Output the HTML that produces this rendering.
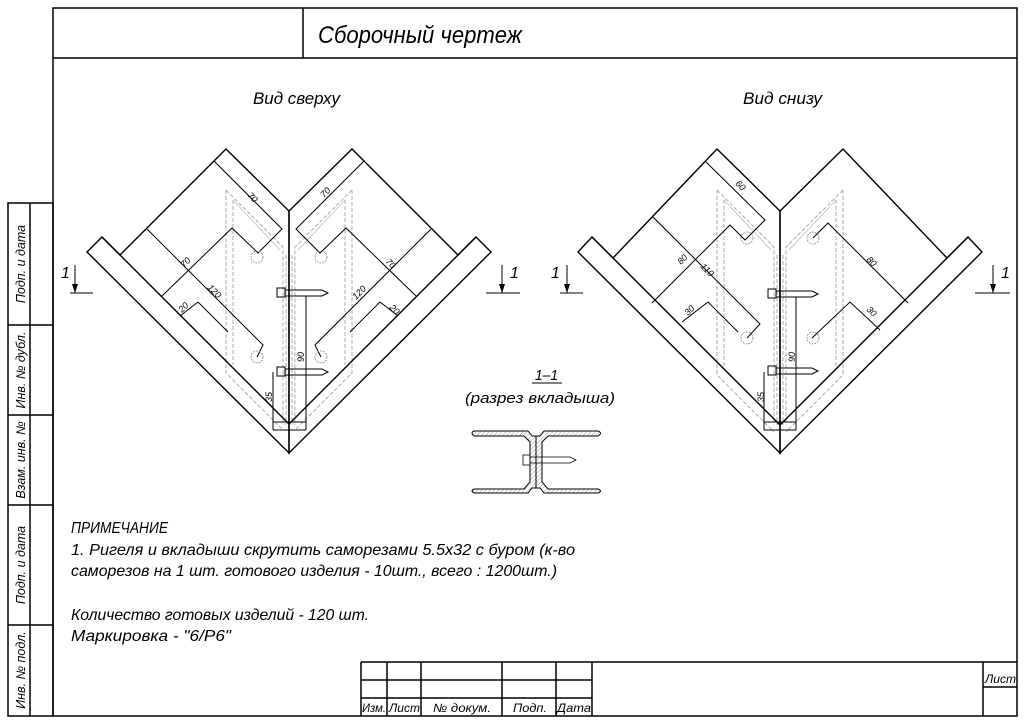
<!DOCTYPE html>
<html><head><meta charset="utf-8"><style>
html,body{margin:0;padding:0;background:#fff;}
svg{display:block;}
text{font-family:"Liberation Sans","DejaVu Sans",sans-serif;font-style:italic;fill:#000;}
</style></head><body>
<svg width="1024" height="724" viewBox="0 0 1024 724" xmlns="http://www.w3.org/2000/svg">
<rect width="1024" height="724" fill="#fff"/>
<g fill="none" stroke="#000" stroke-width="1.5">
<rect x="53" y="8" width="964" height="708"/>
<line x1="53" y1="58" x2="1017" y2="58"/>
<line x1="303" y1="8" x2="303" y2="58"/>
<rect x="8" y="203" width="45" height="513"/>
<line x1="30" y1="203" x2="30" y2="716"/>
<line x1="8" y1="325" x2="53" y2="325"/>
<line x1="8" y1="415" x2="53" y2="415"/>
<line x1="8" y1="505" x2="53" y2="505"/>
<line x1="8" y1="625" x2="53" y2="625"/>
<line x1="361" y1="662" x2="1017" y2="662"/>
<line x1="361" y1="662" x2="361" y2="716"/>
<line x1="361" y1="680" x2="592" y2="680"/>
<line x1="361" y1="698" x2="592" y2="698"/>
<line x1="387" y1="662" x2="387" y2="716"/>
<line x1="421" y1="662" x2="421" y2="716"/>
<line x1="502" y1="662" x2="502" y2="716"/>
<line x1="556" y1="662" x2="556" y2="716"/>
<line x1="592" y1="662" x2="592" y2="716"/>
<line x1="983" y1="662" x2="983" y2="716"/>
<line x1="983" y1="687" x2="1017" y2="687"/>
</g>

<text x="318" y="43" font-size="24" textLength="204" lengthAdjust="spacingAndGlyphs">Сборочный чертеж</text>
<text x="253" y="104" font-size="17" textLength="87" lengthAdjust="spacingAndGlyphs">Вид сверху</text>
<text x="743" y="104" font-size="17" textLength="79" lengthAdjust="spacingAndGlyphs">Вид снизу</text>
<text x="535" y="380" font-size="15" textLength="23" lengthAdjust="spacingAndGlyphs">1–1</text>
<line x1="532" y1="383" x2="562" y2="383" stroke="#000" stroke-width="1"/>
<text x="465" y="403" font-size="15" textLength="150" lengthAdjust="spacingAndGlyphs">(разрез вкладыша)</text>
<g font-size="16">
<text x="71" y="533" textLength="97" lengthAdjust="spacingAndGlyphs">ПРИМЕЧАНИЕ</text>
<text x="71" y="555" textLength="504" lengthAdjust="spacingAndGlyphs">1. Ригеля и вкладыши скрутить саморезами 5.5x32 с буром (к-во</text>
<text x="71" y="576" textLength="486" lengthAdjust="spacingAndGlyphs">саморезов на 1 шт. готового изделия - 10шт., всего : 1200шт.)</text>
<text x="71" y="620" textLength="298" lengthAdjust="spacingAndGlyphs">Количество готовых изделий - 120 шт.</text>
<text x="71" y="641" textLength="160" lengthAdjust="spacingAndGlyphs">Маркировка - "6/Р6"</text>
</g>
<g font-size="12">
<text x="362" y="712" textLength="24" lengthAdjust="spacingAndGlyphs">Изм.</text>
<text x="389" y="712" textLength="31" lengthAdjust="spacingAndGlyphs">Лист</text>
<text x="433" y="712" textLength="58" lengthAdjust="spacingAndGlyphs">№ докум.</text>
<text x="513" y="712" textLength="34" lengthAdjust="spacingAndGlyphs">Подп.</text>
<text x="557" y="712" textLength="34" lengthAdjust="spacingAndGlyphs">Дата</text>
<text x="985" y="683" textLength="31" lengthAdjust="spacingAndGlyphs">Лист</text>
</g>
<g font-size="12.5">
<text transform="translate(25,264) rotate(-90)" text-anchor="middle">Подп. и дата</text>
<text transform="translate(25,370) rotate(-90)" text-anchor="middle">Инв. № дубл.</text>
<text transform="translate(25,460) rotate(-90)" text-anchor="middle">Взам. инв. №</text>
<text transform="translate(25,565) rotate(-90)" text-anchor="middle">Подп. и дата</text>
<text transform="translate(25,670) rotate(-90)" text-anchor="middle">Инв. № подл.</text>
</g>

<g>
<g fill="none" stroke="#999" stroke-width="0.8" stroke-dasharray="4,2">
<path d="M226,190 L226,373 L283,430"/>
<path d="M233,200 L233,365"/>
<path d="M352,190 L352,373 L295,430"/>
<path d="M345,200 L345,365"/>
<path d="M226,190 L283,247 L283,425"/>
<path d="M352,190 L295,247 L295,425"/>
<path d="M286,255 L286,425 M292,255 L292,425"/>
</g>
<g fill="none" stroke="#bbb" stroke-width="0.8">
<path d="M233,200 L280,250 M345,200 L298,250"/>
</g>
<g fill="none" stroke="#000" stroke-width="1.4">
<path d="M87,252 L102,237 L120,255 L226,149 L289,211 L289,453 Z"/>
<path d="M102,237 L289,424"/>
<path d="M491,252 L476,237 L458,255 L352,149 L289,211 L289,453 Z"/>
<path d="M476,237 L289,424"/>
</g>
<g fill="none" stroke="#000" stroke-width="1">
<path d="M214,161 L282,229 L258,253 L232,228 L162,296"/>
<path d="M147,229 L263,345 L257,357"/>
<path d="M180,316 L198,302 L228,332"/>
<path d="M364,161 L296,229 L320,253 L346,228 L416,296"/>
<path d="M431,229 L315,345 L321,357"/>
<path d="M398,316 L380,302 L350,332"/>
<rect x="277" y="288" width="8" height="9"/><path d="M285,290 L322,290 L328,293 L322,296 L285,296"/>
<rect x="277" y="367" width="8" height="9"/><path d="M285,369 L322,369 L328,372 L322,375 L285,375"/>
<path d="M306,296 L306,430 M273,372 L273,430 M273,422 L306,422 M273,430 L306,430"/>
</g>
<g fill="none" stroke="#888" stroke-width="0.8" stroke-dasharray="2,1">
<circle cx="257" cy="257" r="6"/><circle cx="321" cy="257" r="6"/>
<circle cx="257" cy="357" r="6"/><circle cx="321" cy="357" r="6"/>
</g>
<g font-size="9">
<text transform="translate(247,196) rotate(45)">70</text>
<text transform="translate(324,198) rotate(-45)">70</text>
<text transform="translate(184,268) rotate(-45)">70</text>
<text transform="translate(385,262) rotate(45)">70</text>
<text transform="translate(207,288) rotate(45)">120</text>
<text transform="translate(356,300) rotate(-45)">120</text>
<text transform="translate(182,313) rotate(-45)">20</text>
<text transform="translate(389,308) rotate(45)">20</text>
<text transform="translate(304,362) rotate(-90)">90</text>
<text transform="translate(272,402) rotate(-90)">35</text>
</g>
</g>

<g>
<g fill="none" stroke="#999" stroke-width="0.8" stroke-dasharray="4,2">
<path d="M717,190 L717,375 L774,432"/>
<path d="M724,200 L724,367"/>
<path d="M843,190 L843,375 L786,432"/>
<path d="M836,200 L836,367"/>
<path d="M717,190 L774,247 L774,425"/>
<path d="M843,190 L786,247 L786,425"/>
<path d="M777,255 L777,425 M783,255 L783,425"/>
</g>
<g fill="none" stroke="#bbb" stroke-width="0.8">
<path d="M724,200 L771,250 M836,200 L789,250"/>
</g>
<g fill="none" stroke="#000" stroke-width="1.4">
<path d="M578,252 L592,237 L613,258 L717,149 L780,211 L780,453 Z"/>
<path d="M592,237 L780,425"/>
<path d="M982,252 L968,237 L947,258 L843,149 L780,211 L780,453 Z"/>
<path d="M968,237 L780,425"/>
</g>
<g fill="none" stroke="#000" stroke-width="1">
<path d="M705,161 L765,220 L745,240 L730,225 L652,303"/>
<path d="M652,216 L760,324 L747,338"/>
<path d="M682,322 L708,302 L738,332"/>
<path d="M813,238 L828,223 L908,303"/>
<path d="M812,338 L850,302 L880,330"/>
<rect x="768" y="289" width="8" height="9"/><path d="M776,291 L812,291 L818,294 L812,297 L776,297"/>
<rect x="768" y="366" width="8" height="9"/><path d="M776,368 L812,368 L818,371 L812,374 L776,374"/>
<path d="M796,297 L796,430 M764,372 L764,430 M764,422 L796,422 M764,430 L796,430"/>
</g>
<g fill="none" stroke="#888" stroke-width="0.8" stroke-dasharray="2,1">
<circle cx="747" cy="238" r="6"/><circle cx="813" cy="238" r="6"/>
<circle cx="747" cy="338" r="6"/><circle cx="813" cy="338" r="6"/>
</g>
<g font-size="9">
<text transform="translate(735,184) rotate(45)">60</text>
<text transform="translate(681,265) rotate(-45)">80</text>
<text transform="translate(700,267) rotate(45)">110</text>
<text transform="translate(866,260) rotate(45)">80</text>
<text transform="translate(688,316) rotate(-45)">30</text>
<text transform="translate(866,310) rotate(45)">30</text>
<text transform="translate(795,362) rotate(-90)">90</text>
<text transform="translate(764,402) rotate(-90)">35</text>
</g>
</g>

<g fill="none" stroke="#000" stroke-width="1">
<path d="M70,293 L93,293 M75,265 L75,293"/>
<path d="M486,293 L520,293 M502,265 L502,293"/>
<path d="M560,293 L583,293 M567,265 L567,293"/>
<path d="M975,293 L1010,293 M993,265 L993,293"/>
</g>
<g fill="#000">
<path d="M72,284 L75,293 L78,284 Z"/><path d="M499,284 L502,293 L505,284 Z"/>
<path d="M564,284 L567,293 L570,284 Z"/><path d="M990,284 L993,293 L996,284 Z"/>
</g>
<g font-size="16">
<text x="61" y="278">1</text><text x="510" y="278">1</text>
<text x="551" y="278">1</text><text x="1001" y="278">1</text>
</g>

<defs><pattern id="h" width="3" height="3" patternUnits="userSpaceOnUse" patternTransform="rotate(45)"><line x1="0" y1="0" x2="0" y2="3" stroke="#888" stroke-width="0.8"/></pattern></defs>
<g stroke="#000" stroke-width="1" fill="url(#h)">
<path d="M474,431 L528,431 L532,436 L536,436 L536,488 L532,488 L528,493 L474,493 Q470,491 474,489 L524,489 L530,482 L530,442 L524,436 L474,436 Q470,433 474,431 Z"/>
<path d="M598,431 L544,431 L540,436 L536,436 L536,488 L540,488 L544,493 L598,493 Q603,491 598,489 L548,489 L542,482 L542,442 L548,436 L598,436 Q603,433 598,431 Z"/>
</g>
<g fill="none" stroke="#000" stroke-width="0.8">
<rect x="523" y="455" width="7" height="10"/>
<path d="M530,457 L570,457 L576,460 L570,463 L530,463"/>
</g>
</svg>
</body></html>
